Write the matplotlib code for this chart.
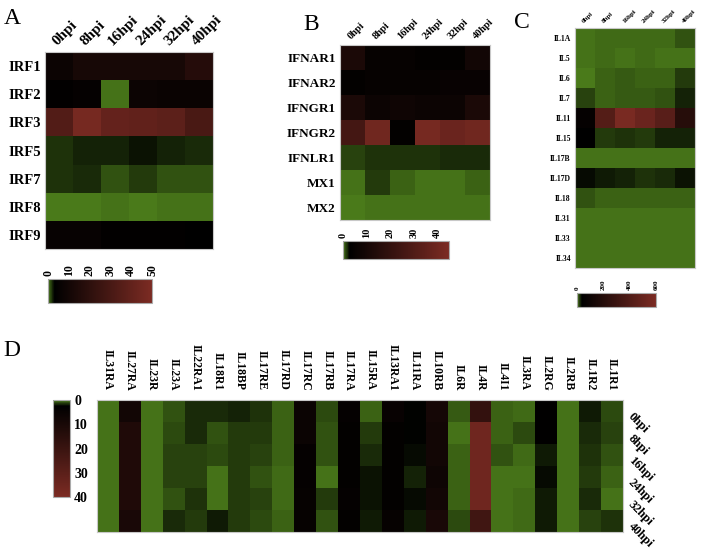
import matplotlib
matplotlib.use('Agg')
import matplotlib.pyplot as plt
import numpy as np
from matplotlib.colors import LinearSegmentedColormap

plt.rcParams['font.family'] = ['Liberation Serif', 'DejaVu Serif']
plt.rcParams['font.weight'] = 'bold'

hpi = ['0hpi', '8hpi', '16hpi', '24hpi', '32hpi', '40hpi']

# panel A - IRF genes
irf_genes = ['IRF1', 'IRF2', 'IRF3', 'IRF5', 'IRF7', 'IRF8', 'IRF9']
irf_vals = [
    [8, 12, 12, 12, 12, 17],
    [4, 5, 0.2, 8, 7, 7],
    [34, 48, 41, 40, 38, 31],
    [1.9, 2.3, 2.3, 2.6, 2.3, 2.0],
    [1.8, 2.0, 1.0, 1.6, 1.0, 1.0],
    [0.1, 0.1, 0.2, 0.15, 0.3, 0.25],
    [6, 6, 4, 4, 4, 3.2],
]

# panel B - IFN receptors / MX
ifn_genes = ['IFNAR1', 'IFNAR2', 'IFNGR1', 'IFNGR2', 'IFNLR1', 'MX1', 'MX2']
ifn_vals = [
    [12, 5, 5, 4, 4, 9],
    [4, 5, 5, 5, 5.5, 5.5],
    [12, 7, 8, 7, 7, 12],
    [26, 41, 4, 43, 39, 41],
    [1.3, 1.7, 1.7, 1.7, 1.9, 1.9],
    [0.2, 1.5, 0.6, 0.25, 0.2, 0.7],
    [0.15, 0.2, 0.2, 0.2, 0.3, 0.3],
]

# panel C - interleukins
il_genes = ['IL1A', 'IL5', 'IL6', 'IL7', 'IL11', 'IL15', 'IL17B', 'IL17D',
            'IL18', 'IL31', 'IL33', 'IL34']
il_vals = [
    [3, 7, 7, 7, 6, 12],
    [4, 5, 4, 5, 3, 4],
    [2, 8, 11, 8, 8, 20],
    [18, 9, 11, 10, 12, 27],
    [60, 420, 590, 520, 440, 210],
    [38, 20, 22, 20, 27, 28],
    [3, 3, 3, 3, 3, 3],
    [34, 30, 26, 22, 24, 32],
    [12, 8, 8, 8, 8, 8],
    [4, 4, 4, 4, 4, 4],
    [4, 4, 4, 4, 4, 4],
    [4, 4, 4, 4, 4, 4],
]

# panel D - interleukin receptors (rows = hpi, cols = genes)
ilr_genes = ['IL31RA', 'IL27RA', 'IL23R', 'IL23A', 'IL22RA1', 'IL18R1', 'IL18BP',
             'IL17RE', 'IL17RD', 'IL17RC', 'IL17RB', 'IL17RA', 'IL15RA', 'IL13RA1',
             'IL11RA', 'IL10RB', 'IL6R', 'IL4R', 'IL4I1', 'IL3RA', 'IL2RG', 'IL2RB',
             'IL1R2', 'IL1R1']
ilr_by_gene = [
    [0.3, 0.3, 0.3, 0.3, 0.3, 0.3],
    [8, 12, 12, 12, 12, 10],
    [0.2, 0.2, 0.2, 0.2, 0.2, 0.2],
    [0.8, 1.0, 1.1, 1.1, 0.8, 1.6],
    [1.6, 1.6, 1.1, 1.1, 1.5, 1.3],
    [1.6, 0.8, 1.0, 0.3, 0.3, 2.0],
    [1.8, 1.4, 1.3, 1.4, 1.4, 1.3],
    [1.5, 1.4, 1.2, 0.9, 1.2, 1.0],
    [0.5, 0.5, 0.5, 0.4, 0.4, 0.5],
    [6, 6, 4, 4, 4.5, 4.5],
    [1.0, 0.8, 0.8, 0.3, 1.3, 0.9],
    [4, 3.5, 3.5, 3.5, 4, 3.5],
    [0.5, 1.4, 1.7, 2.1, 2.1, 2.0],
    [5, 3.5, 3.5, 3.5, 3.5, 4.5],
    [2.4, 2.4, 2.2, 1.8, 2.2, 1.9],
    [9, 8, 8, 7, 8, 10],
    [0.7, 0.3, 0.5, 0.6, 0.6, 1.0],
    [18, 36, 36, 36, 36, 22],
    [0.6, 0.6, 0.8, 0.3, 0.3, 0.3],
    [0.4, 1.0, 0.4, 0.3, 0.4, 0.4],
    [3, 3, 1.9, 2.3, 2.0, 1.9],
    [0.2, 0.2, 0.2, 0.2, 0.2, 0.2],
    [2.0, 1.6, 1.5, 1.3, 1.6, 1.2],
    [1.0, 1.2, 0.8, 0.5, 0.2, 1.5],
]

cmap = LinearSegmentedColormap.from_list(
    'gkr', [(0, '#4a7a1a'), (0.06, '#000000'), (1, '#7c2b23')])

fig = plt.figure(figsize=(7.05, 5.49), dpi=100)
W, H = 705, 549


def rect(x0, y0, x1, y1):
    return [x0 / W, 1 - y1 / H, (x1 - x0) / W, (y1 - y0) / H]


def heat(box, vals, vmax, rows, cols, rfs, cfs):
    ax = fig.add_axes(rect(*box))
    im = ax.imshow(np.array(vals), cmap=cmap, vmin=0, vmax=vmax,
                   aspect='auto', interpolation='nearest')
    ax.xaxis.tick_top()
    ax.set_xticks(range(len(cols)))
    ax.set_xticklabels(cols, rotation=45, ha='left', va='bottom',
                       rotation_mode='anchor', fontsize=cfs)
    ax.set_yticks(range(len(rows)))
    ax.set_yticklabels(rows, fontsize=rfs)
    ax.tick_params(length=0, pad=3)
    for s in ax.spines.values():
        s.set_color('#c8c8c8')
        s.set_linewidth(0.8)
    return ax, im


def hbar(box, im, ticks, fs):
    cax = fig.add_axes(rect(*box))
    cb = fig.colorbar(im, cax=cax, orientation='horizontal')
    cax.xaxis.tick_top()
    cb.set_ticks(ticks)
    cax.set_xticklabels([str(t) for t in ticks], rotation=90, fontsize=fs)
    cax.tick_params(length=0, pad=2)
    cb.outline.set_edgecolor('#aaaaaa')
    cb.outline.set_linewidth(0.8)
    return cb


# A
axA, imA = heat((45, 52, 213, 249), irf_vals, 50, irf_genes, hpi, 10.5, 11)
hbar((48, 279, 152, 303), imA, [0, 10, 20, 30, 40, 50], 8.5)
fig.text(4 / W, 1 - 24 / H, 'A', fontsize=17, fontweight='normal')

# B
axB, imB = heat((340, 45, 490, 220), ifn_vals, 45, ifn_genes, hpi, 9.5, 7.5)
hbar((343, 241, 449, 259), imB, [0, 10, 20, 30, 40], 7.5)
fig.text(303 / W, 1 - 30 / H, 'B', fontsize=17, fontweight='normal')

# C
axC, imC = heat((575, 28, 695, 268), il_vals, 600, il_genes, hpi, 5.5, 5)
hbar((577, 293, 656, 307), imC, [0, 200, 400, 600], 5)
fig.text(514 / W, 1 - 28 / H, 'C', fontsize=17, fontweight='normal')

# D
axD = fig.add_axes(rect(97, 400, 623, 532))
imD = axD.imshow(np.array(ilr_by_gene).T, cmap=cmap, vmin=0, vmax=40,
                 aspect='auto', interpolation='nearest')
axD.xaxis.tick_top()
axD.set_xticks(range(len(ilr_genes)))
axD.set_xticklabels(ilr_genes, rotation=270, ha='center', va='bottom', fontsize=8.5)
axD.yaxis.tick_right()
axD.set_yticks(range(len(hpi)))
axD.set_yticklabels(hpi, rotation=-45, ha='left', va='top',
                    rotation_mode='anchor', fontsize=9)
axD.tick_params(axis='x', length=0, pad=7)
axD.tick_params(axis='y', length=0, pad=8)
for s in axD.spines.values():
    s.set_color('#c8c8c8')
    s.set_linewidth(0.8)

caxD = fig.add_axes(rect(53, 400, 70, 497))
cbD = fig.colorbar(imD, cax=caxD, orientation='vertical')
caxD.invert_yaxis()
cbD.set_ticks([0, 10, 20, 30, 40])
caxD.set_yticklabels(['0', '10', '20', '30', '40'], fontsize=10)
caxD.tick_params(length=0, pad=3)
cbD.outline.set_edgecolor('#aaaaaa')
cbD.outline.set_linewidth(0.8)
fig.text(3 / W, 1 - 356 / H, 'D', fontsize=17, fontweight='normal')

fig.savefig('out.png', dpi=100, facecolor='white')
